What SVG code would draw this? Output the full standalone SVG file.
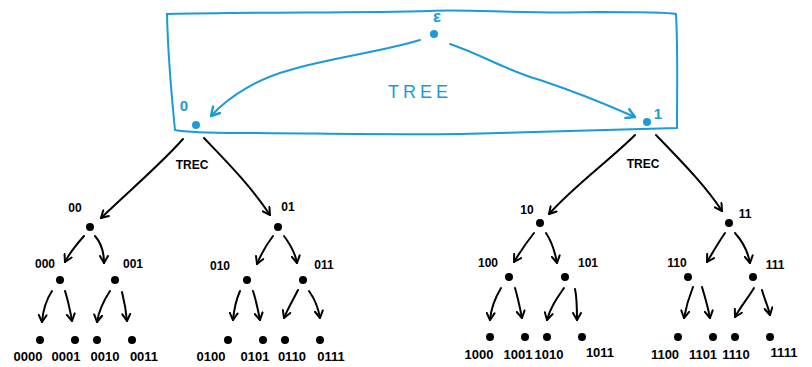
<svg xmlns="http://www.w3.org/2000/svg" width="812" height="367" viewBox="0 0 812 367">
<defs>
<marker id="ah" viewBox="0 0 10 10" refX="8" refY="5" markerWidth="10" markerHeight="10" markerUnits="userSpaceOnUse" orient="auto">
<path d="M1,1 L8,5 L1,9" fill="none" stroke="#000" stroke-width="2" stroke-linecap="round" stroke-linejoin="round"/>
</marker>
<marker id="ahb" viewBox="0 0 10 10" refX="8" refY="5" markerWidth="12" markerHeight="12" markerUnits="userSpaceOnUse" orient="auto">
<path d="M1,1 L8,5 L1,9" fill="none" stroke="#1b9bd7" stroke-width="2" stroke-linecap="round" stroke-linejoin="round"/>
</marker>
</defs>
<style>
.e{fill:none;stroke:#000;stroke-width:2;stroke-linecap:round;marker-end:url(#ah)}
.eb{fill:none;stroke:#1b9bd7;stroke-width:2;stroke-linecap:round;marker-end:url(#ahb)}
.d{fill:#000}
.db{fill:#1b9bd7}
.t{font-family:"Liberation Sans",Arial,sans-serif;font-size:12px;font-weight:bold;fill:#000}
.lf{font-family:"Liberation Sans",Arial,sans-serif;font-size:13px;font-weight:bold;fill:#000}
.tb{font-family:"Liberation Sans",Arial,sans-serif;fill:#1b9bd7}
</style>
<rect width="812" height="367" fill="#fff"/>
<path d="M167,14 C260,12 360,13 430,11 C470,9 520,14 600,12 C640,12 665,12 676,14 C678,50 677,90 677,128 C600,130 540,132 460,134 C380,135 300,133 240,133 C210,133 185,132 175,130 C172,100 168,60 167,14 Z" fill="none" stroke="#1b9bd7" stroke-width="2"/>
<g id="connectors">
<path class="eb" d="M420,40 C380,52 330,58 290,70 C260,78 230,95 211,116"/>
<path class="eb" d="M450,44 C480,54 510,72 540,80 C570,90 610,106 635,117"/>
<path class="e" d="M183,139 C160,165 130,190 101,218"/>
<path class="e" d="M204,138 C225,160 250,185 270,215"/>
<path class="e" d="M635,135 C610,160 575,185 549,214"/>
<path class="e" d="M656,135 C680,160 705,185 722,211"/>
<path class="e" d="M84,236 C76,245 70,252 65,262"/>
<path class="e" d="M95,236 C102,244 104,252 104,263"/>
<path class="e" d="M273,236 C266,245 262,252 257,264"/>
<path class="e" d="M284,236 C290,244 295,252 297,263"/>
<path class="e" d="M534,233 C526,243 520,252 514,262"/>
<path class="e" d="M546,233 C552,242 555,252 557,263"/>
<path class="e" d="M725,233 C718,243 713,252 707,262"/>
<path class="e" d="M735,233 C743,242 748,252 750,263"/>
<path class="e" d="M52,291 C46,300 43,310 42,322"/>
<path class="e" d="M65,291 C68,300 70,310 72,321"/>
<path class="e" d="M110,291 C104,300 99,310 97,322"/>
<path class="e" d="M122,292 C124,300 126,310 127,321"/>
<path class="e" d="M240,291 C236,300 234,310 233,320"/>
<path class="e" d="M253,291 C256,300 258,310 260,320"/>
<path class="e" d="M298,290 C293,300 288,308 284,318"/>
<path class="e" d="M309,291 C314,298 318,306 320,318"/>
<path class="e" d="M501,288 C495,298 491,308 490,320"/>
<path class="e" d="M515,288 C518,298 520,308 522,318"/>
<path class="e" d="M564,288 C557,298 550,308 547,320"/>
<path class="e" d="M575,289 C577,298 577,308 577,320"/>
<path class="e" d="M693,287 C689,297 686,307 684,318"/>
<path class="e" d="M702,287 C705,297 708,307 710,318"/>
<path class="e" d="M754,288 C748,298 741,306 735,317"/>
<path class="e" d="M762,290 C764,298 768,306 770,315"/>
</g>
<g id="n-eps"><circle class="db" cx="434" cy="34" r="4"/><text class="tb" x="437" y="22" font-size="17" font-weight="bold" text-anchor="middle">ε</text></g>
<g id="n-tree-label"><text class="tb" x="420" y="98" font-size="18" letter-spacing="4" text-anchor="middle">TREE</text></g>
<g id="n-0"><circle class="db" cx="196" cy="125" r="4"/><text class="tb" x="184" y="111" font-size="15" font-weight="bold" text-anchor="middle">0</text></g>
<g id="n-1"><circle class="db" cx="647" cy="122" r="4"/><text class="tb" x="658" y="119" font-size="15" font-weight="bold" text-anchor="middle">1</text></g>
<g id="l-trec1"><text class="t" x="192" y="169" font-size="13" text-anchor="middle">TREC</text></g>
<g id="l-trec2"><text class="t" x="643" y="168" font-size="13" text-anchor="middle">TREC</text></g>
<g id="n-00"><circle class="d" cx="90" cy="227" r="4"/><text class="t" x="75" y="212" text-anchor="middle">00</text></g>
<g id="n-01"><circle class="d" cx="278" cy="227" r="4"/><text class="t" x="288" y="211" text-anchor="middle">01</text></g>
<g id="n-10"><circle class="d" cx="540" cy="223" r="4"/><text class="t" x="527" y="214" text-anchor="middle">10</text></g>
<g id="n-11"><circle class="d" cx="729" cy="223" r="4"/><text class="t" x="745" y="218" text-anchor="middle">11</text></g>
<g id="n-000"><circle class="d" cx="60" cy="280" r="4"/><text class="t" x="45" y="268" text-anchor="middle">000</text></g>
<g id="n-001"><circle class="d" cx="115" cy="280" r="4"/><text class="t" x="133" y="268" text-anchor="middle">001</text></g>
<g id="n-010"><circle class="d" cx="247" cy="280" r="4"/><text class="t" x="220" y="270" text-anchor="middle">010</text></g>
<g id="n-011"><circle class="d" cx="303" cy="280" r="4"/><text class="t" x="324" y="269" text-anchor="middle">011</text></g>
<g id="n-100"><circle class="d" cx="509" cy="277" r="4"/><text class="t" x="488" y="267" text-anchor="middle">100</text></g>
<g id="n-101"><circle class="d" cx="565" cy="277" r="4"/><text class="t" x="588" y="267" text-anchor="middle">101</text></g>
<g id="n-110"><circle class="d" cx="688" cy="277" r="4"/><text class="t" x="677" y="267" text-anchor="middle">110</text></g>
<g id="n-111"><circle class="d" cx="753" cy="277" r="4"/><text class="t" x="775" y="269" text-anchor="middle">111</text></g>
<g id="n-0000"><circle class="d" cx="40" cy="340" r="4"/><text class="lf" x="28" y="361" text-anchor="middle">0000</text></g>
<g id="n-0001"><circle class="d" cx="75" cy="340" r="4"/><text class="lf" x="66" y="361" text-anchor="middle">0001</text></g>
<g id="n-0010"><circle class="d" cx="97" cy="340" r="4"/><text class="lf" x="105" y="361" text-anchor="middle">0010</text></g>
<g id="n-0011"><circle class="d" cx="132" cy="340" r="4"/><text class="lf" x="144" y="361" text-anchor="middle">0011</text></g>
<g id="n-0100"><circle class="d" cx="228" cy="340" r="4"/><text class="lf" x="211" y="361" text-anchor="middle">0100</text></g>
<g id="n-0101"><circle class="d" cx="263" cy="340" r="4"/><text class="lf" x="255" y="361" text-anchor="middle">0101</text></g>
<g id="n-0110"><circle class="d" cx="285" cy="340" r="4"/><text class="lf" x="292" y="361" text-anchor="middle">0110</text></g>
<g id="n-0111"><circle class="d" cx="320" cy="340" r="4"/><text class="lf" x="331" y="361" text-anchor="middle">0111</text></g>
<g id="n-1000"><circle class="d" cx="490" cy="337" r="4"/><text class="lf" x="479" y="359" text-anchor="middle">1000</text></g>
<g id="n-1001"><circle class="d" cx="525" cy="337" r="4"/><text class="lf" x="518" y="359" text-anchor="middle">1001</text></g>
<g id="n-1010"><circle class="d" cx="547" cy="337" r="4"/><text class="lf" x="549" y="359" text-anchor="middle">1010</text></g>
<g id="n-1011"><circle class="d" cx="582" cy="337" r="4"/><text class="lf" x="600" y="357" text-anchor="middle">1011</text></g>
<g id="n-1100"><circle class="d" cx="678" cy="337" r="4"/><text class="lf" x="665" y="359" text-anchor="middle">1100</text></g>
<g id="n-1101"><circle class="d" cx="713" cy="337" r="4"/><text class="lf" x="703" y="359" text-anchor="middle">1101</text></g>
<g id="n-1110"><circle class="d" cx="735" cy="337" r="4"/><text class="lf" x="736" y="359" text-anchor="middle">1110</text></g>
<g id="n-1111"><circle class="d" cx="770" cy="337" r="4"/><text class="lf" x="784" y="357" text-anchor="middle">1111</text></g>
</svg>
